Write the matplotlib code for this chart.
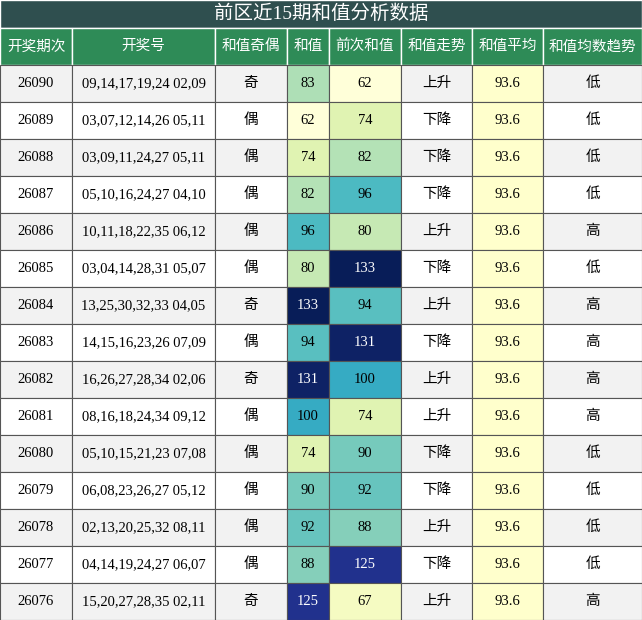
import matplotlib
matplotlib.use('Agg')
import matplotlib.pyplot as plt
from matplotlib.colors import Normalize
from matplotlib.patches import Rectangle

plt.rcParams['font.family'] = ['Liberation Serif', 'Noto Sans CJK SC', 'DejaVu Sans']

title = '前区近15期和值分析数据'
headers = ['开奖期次', '开奖号', '和值奇偶', '和值', '前次和值', '和值走势', '和值平均', '和值均数趋势']
periods = ['26090', '26089', '26088', '26087', '26086', '26085', '26084', '26083',
           '26082', '26081', '26080', '26079', '26078', '26077', '26076']
numbers = ['09,14,17,19,24 02,09', '03,07,12,14,26 05,11', '03,09,11,24,27 05,11',
           '05,10,16,24,27 04,10', '10,11,18,22,35 06,12', '03,04,14,28,31 05,07',
           '13,25,30,32,33 04,05', '14,15,16,23,26 07,09', '16,26,27,28,34 02,06',
           '08,16,18,24,34 09,12', '05,10,15,21,23 07,08', '06,08,23,26,27 05,12',
           '02,13,20,25,32 08,11', '04,14,19,24,27 06,07', '15,20,27,28,35 02,11']
parity = ['奇', '偶', '偶', '偶', '偶', '偶', '奇', '偶', '奇', '偶', '偶', '偶', '偶', '偶', '奇']
sums = [83, 62, 74, 82, 96, 80, 133, 94, 131, 100, 74, 90, 92, 88, 125]
prev_sums = [62, 74, 82, 96, 80, 133, 94, 131, 100, 74, 90, 92, 88, 125, 67]
trend = ['上升', '下降', '下降', '下降', '上升', '下降', '上升', '下降', '上升', '上升',
         '下降', '下降', '上升', '下降', '上升']
avg = 93.6
avg_trend = ['低', '低', '低', '低', '高', '低', '高', '高', '高', '高', '低', '低', '低', '低', '高']

W, H = 642, 620
col_edges = [0, 72, 215, 287, 329, 401, 472, 543, 642]
title_h, head_h = 28, 37
row_h = (H - title_h - head_h) / len(periods)

fig = plt.figure(figsize=(W / 100, H / 100), dpi=100)
ax = fig.add_axes([0, 0, 1, 1])
ax.set_xlim(0, W)
ax.set_ylim(H, 0)
ax.axis('off')

cmap = plt.get_cmap('YlGnBu')
norm = Normalize(min(sums + prev_sums), max(sums + prev_sums))

ax.add_patch(Rectangle((0, 0), W, title_h, facecolor='#2f4f4f', edgecolor='white', lw=1))
ax.text(W / 2, title_h / 2, title, color='white', fontsize=14, ha='center', va='center')

for j, h in enumerate(headers):
    x0, x1 = col_edges[j], col_edges[j + 1]
    ax.add_patch(Rectangle((x0, title_h), x1 - x0, head_h, facecolor='#2e8b57',
                           edgecolor='white', lw=1))
    ax.text((x0 + x1) / 2, title_h + head_h / 2, h, color='white', fontsize=10.5,
            ha='center', va='center')

for i in range(len(periods)):
    y0 = title_h + head_h + i * row_h
    base = '#f2f2f2' if i % 2 == 0 else 'white'
    cells = [periods[i], numbers[i], parity[i], str(sums[i]), str(prev_sums[i]),
             trend[i], f'{avg:.1f}', avg_trend[i]]
    for j, txt in enumerate(cells):
        x0, x1 = col_edges[j], col_edges[j + 1]
        fc, tc = base, 'black'
        if j in (3, 4):
            v = sums[i] if j == 3 else prev_sums[i]
            fc = cmap(norm(v))
            if norm(v) > 0.6:
                tc = 'white'
        elif j == 6:
            fc = '#ffffcc'
        ax.add_patch(Rectangle((x0, y0), x1 - x0, row_h, facecolor=fc,
                               edgecolor='#555555', lw=0.8))
        ax.text((x0 + x1) / 2, y0 + row_h / 2, txt, color=tc, fontsize=10.5,
                ha='center', va='center')

fig.savefig('out.png', dpi=100)
